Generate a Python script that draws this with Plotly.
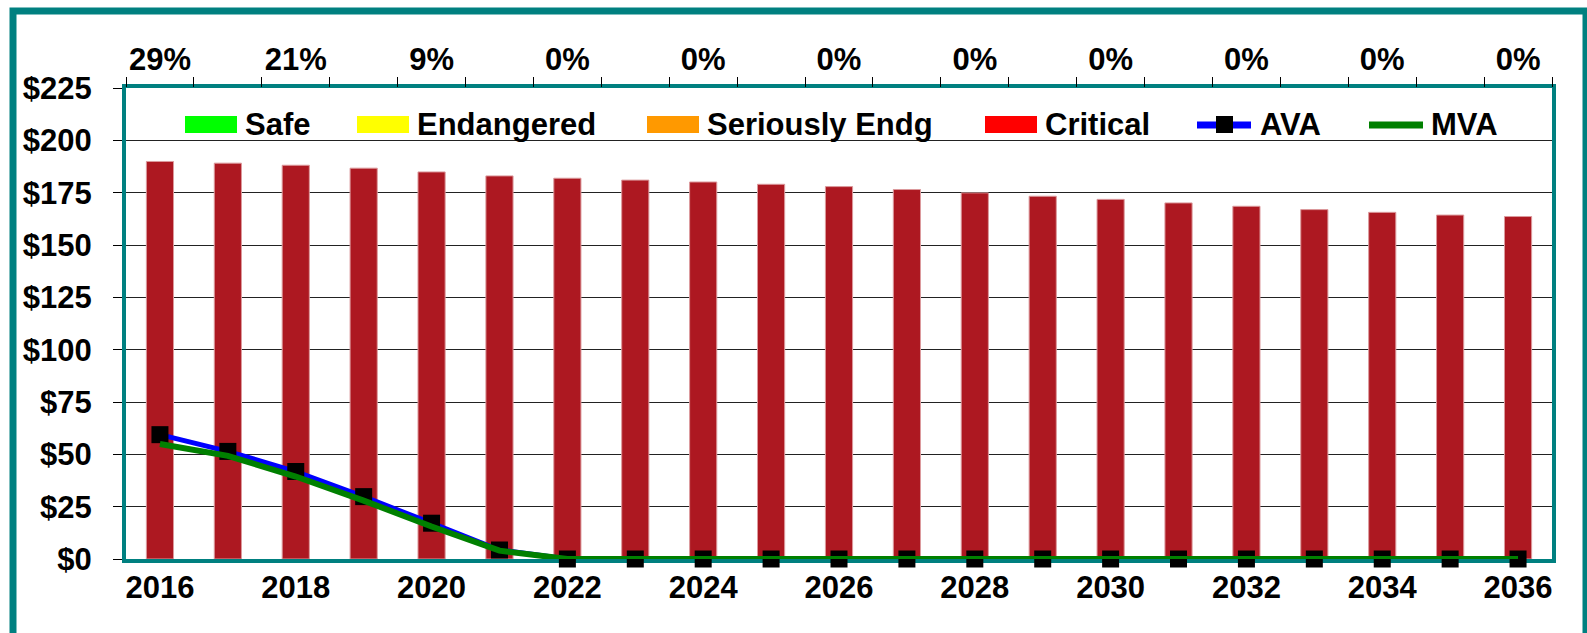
import plotly.graph_objects as go

# plan years
years = list(range(2016, 2037))

# liabilities (red bars, critical zone), $ millions
liabilities = [189.9, 189.1, 188.1, 186.7, 184.9, 183.0, 181.9, 181.0, 180.1, 179.0, 177.9,
               176.5, 174.9, 173.3, 171.8, 170.1, 168.5, 166.9, 165.6, 164.3, 163.6]

# actuarial value of assets
ava = [59.4, 51.4, 41.8, 29.8, 17.1, 4.3, 0, 0, 0, 0, 0, 0, 0, 0, 0, 0, 0, 0, 0, 0, 0]

# market value of assets
mva = [54.9, 49.3, 39.4, 27.9, 15.5, 4.0, 0, 0, 0, 0, 0, 0, 0, 0, 0, 0, 0, 0, 0, 0, 0]

# funded percentages shown on the top axis (every other year)
pct_years = list(range(2016, 2037, 2))
pct_labels = ["29%", "21%", "9%", "0%", "0%", "0%", "0%", "0%", "0%", "0%", "0%"]

# legend entries: (name, colour, kind)
legend_items = [("Safe", "#00ff00", "bar"),
                ("Endangered", "#ffff00", "bar"),
                ("Seriously Endg", "#ff9900", "bar"),
                ("Critical", "#ff0000", "bar"),
                ("AVA", "#0000ff", "ava"),
                ("MVA", "#008000", "line")]

TEAL = "#008080"
FONT = dict(family="Liberation Sans, Arial", size=31, color="black", weight="bold")

# plot area in pixels
W, H = 1587, 633
L, R, T, B = 126, 35, 88, 74
PW, PH = W - L - R, H - T - B


def px_x(px):
    return (px - L) / PW


def px_y(py):
    return (H - B - py) / PH


fig = go.Figure()
fig.add_trace(go.Bar(x=years, y=liabilities, width=0.4,
                     marker=dict(color="#ad1821", line=dict(color="#dc9a9d", width=1)),
                     showlegend=False, hoverinfo="x+y"))
fig.add_trace(go.Scatter(x=years, y=ava, mode="lines+markers",
                         line=dict(color="#0000ff", width=5),
                         marker=dict(symbol="square", size=17, color="black"),
                         showlegend=False, cliponaxis=False))
fig.add_trace(go.Scatter(x=years, y=mva, mode="lines",
                         line=dict(color="#008000", width=6),
                         showlegend=False, cliponaxis=False))
# invisible trace so the top axis is drawn
fig.add_trace(go.Scatter(x=years, y=mva, xaxis="x2", mode="lines",
                         line=dict(width=0), opacity=0, showlegend=False,
                         hoverinfo="skip"))

shapes = []
annotations = []

# outer frame
shapes.append(dict(type="rect", xref="paper", yref="paper",
                   x0=px_x(13), x1=px_x(1586), y0=px_y(637), y1=px_y(11),
                   line=dict(color=TEAL, width=7), layer="below"))

# manual legend
swatch_x = [185, 357, 647, 985, 1195, 1367]
text_x = [243, 415, 705, 1043, 1258, 1429]
for (name, color, kind), sx, tx in zip(legend_items, swatch_x, text_x):
    if kind == "bar":
        shapes.append(dict(type="rect", xref="paper", yref="paper",
                           x0=px_x(sx), x1=px_x(sx + 52),
                           y0=px_y(133), y1=px_y(116),
                           fillcolor=color, line=dict(width=0)))
    else:
        shapes.append(dict(type="line", xref="paper", yref="paper",
                           x0=px_x(sx + 2), x1=px_x(sx + 56),
                           y0=px_y(125), y1=px_y(125),
                           line=dict(color=color, width=7)))
        if kind == "ava":
            shapes.append(dict(type="rect", xref="paper", yref="paper",
                               x0=px_x(sx + 21), x1=px_x(sx + 38),
                               y0=px_y(133), y1=px_y(116),
                               fillcolor="black", line=dict(width=0)))
    annotations.append(dict(text=name, xref="paper", yref="paper",
                            x=px_x(tx), y=px_y(124), xanchor="left",
                            yanchor="middle", showarrow=False, font=FONT))

fig.update_layout(
    width=W, height=H,
    margin=dict(l=L, r=R, t=T, b=B),
    paper_bgcolor="white", plot_bgcolor="white",
    font=FONT,
    xaxis=dict(range=[2015.5, 2036.5], tickvals=pct_years, ticks="",
               showgrid=False, zeroline=False, layer="below traces",
               showline=True, linecolor=TEAL, linewidth=4, mirror=True,
               tickfont=FONT, ticklabelstandoff=-2),
    xaxis2=dict(range=[2015.5, 2036.5], overlaying="x", side="top",
                tickvals=pct_years, ticktext=pct_labels, ticks="",
                showgrid=False, zeroline=False, showline=False,
                tickfont=FONT, ticklabelstandoff=11,
                minor=dict(tickvals=[y - 0.5 for y in years] + [2036.5],
                           ticks="outside", ticklen=10, tickcolor="black",
                           tickwidth=1, showgrid=False)),
    yaxis=dict(range=[0, 225], dtick=25, tickprefix="$",
               showgrid=True, gridcolor="#222222", gridwidth=1,
               zeroline=False, showline=True, linecolor=TEAL, linewidth=4,
               mirror=True, ticks="outside", ticklen=9, tickcolor="black",
               layer="below traces", tickfont=FONT, ticklabelstandoff=15),
    shapes=shapes,
    annotations=annotations,
)

# page body has a default 8px margin; remove it so the figure sits at the corner
fig.write_html("out.html", config={"displayModeBar": False},
               post_script="document.body.style.margin='0';")
